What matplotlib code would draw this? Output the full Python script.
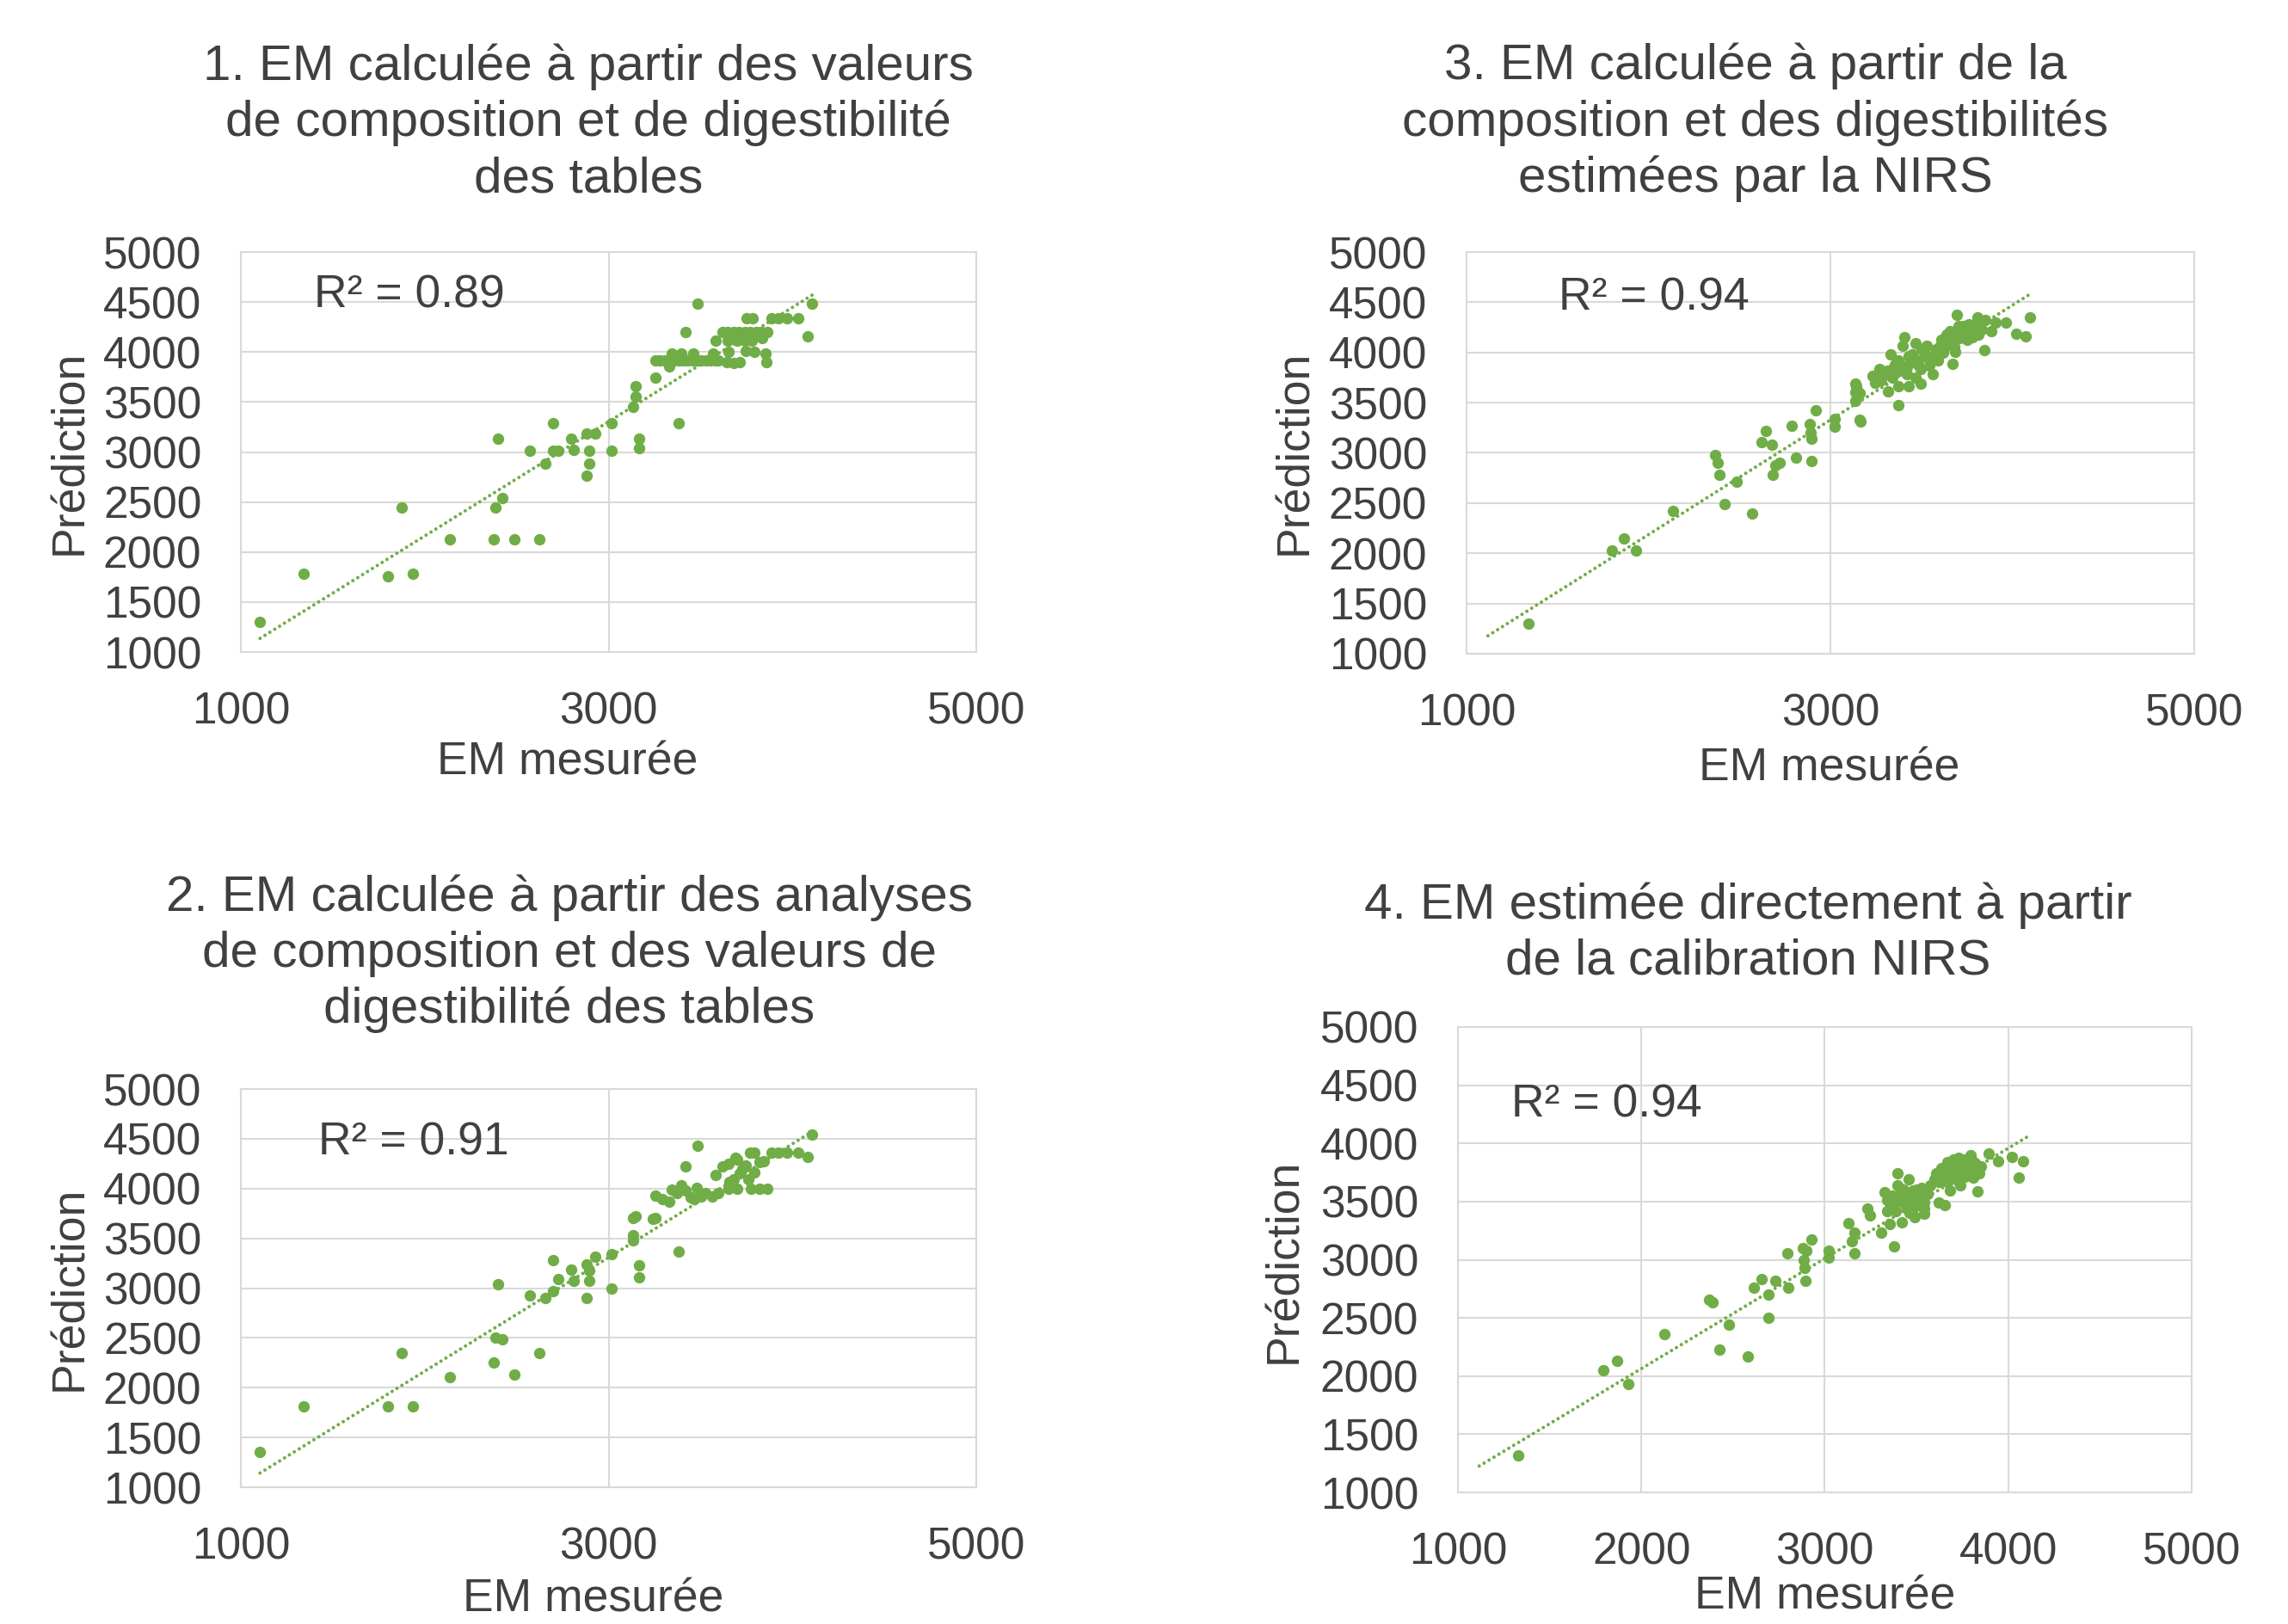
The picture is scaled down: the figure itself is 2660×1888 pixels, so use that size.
import matplotlib
matplotlib.use("Agg")
import matplotlib.pyplot as plt
import numpy as np

plt.rcParams['font.family'] = ['Liberation Sans', 'DejaVu Sans']

# ---------------- data ----------------
x1 = [1104, 1339, 1800, 1936, 1875, 2136, 2375, 2486, 2621, 2386, 2421, 2400, 2571, 2657, 2696, 2696, 2725,
      2796, 2811, 2882, 2929, 2896, 2896, 2882, 3018, 3018, 3132, 3147, 3147, 3168, 3168, 3257, 3382,
      3483, 3420,
      3257, 3280, 3305, 3330, 3355, 3380, 3405, 3430, 3455, 3480, 3505, 3530, 3555, 3580, 3597,
      3331, 3344, 3394, 3461, 3567, 3643, 3682, 3713, 3651, 3745, 3791, 3854, 3857, 3581,
      3620, 3650, 3680, 3710, 3740, 3770, 3800, 3830, 3862, 3650, 3700, 3740, 3780, 3834,
      3752, 3784, 3885, 3924, 3971, 4033, 4083, 4108]
y1 = [1300, 1781, 1759, 1781, 2444, 2123, 2123, 2123, 2123, 2444, 2540, 3132, 3014, 2882, 3292, 3014, 3014,
      3135, 3021, 3182, 3182, 3014, 2882, 2765, 3292, 3014, 3453, 3555, 3655, 3132, 3039, 3747, 3292,
      4480, 4201,
      3914, 3914, 3914, 3914, 3914, 3914, 3914, 3914, 3914, 3914, 3914, 3914, 3914, 3914, 3914,
      3856, 3986, 3986, 3986, 3986, 3900, 3890, 3900, 4000, 4014, 4000, 3986, 3900, 4115,
      4201, 4201, 4201, 4201, 4201, 4201, 4201, 4201, 4201, 4115, 4115, 4115, 4115, 4144,
      4339, 4339, 4339, 4339, 4339, 4339, 4158, 4480]

x2 = [1104, 1339, 1800, 1936, 1875, 2136, 2375, 2486, 2621, 2386, 2421, 2400, 2571, 2657, 2696, 2696, 2725,
      2796, 2811, 2882, 2896, 2896, 2929, 2882, 3018, 3018, 3132, 3132, 3132, 3168, 3168, 3243, 3382,
      3483, 3420, 3147, 3257, 4108, 4083, 4033, 3971, 3924, 3885, 3768, 3791, 3690,
      3257, 3292, 3331, 3344, 3394, 3448, 3480, 3526, 3565, 3597, 3370, 3417, 3503, 3464,
      3651, 3698, 3776, 3823, 3862,
      3581, 3620, 3659, 3682, 3713, 3745, 3791, 3823, 3846, 3651, 3698, 3760, 3729]
y2 = [1352, 1812, 1812, 1812, 2348, 2110, 2254, 2136, 2348, 2502, 2484, 3041, 2923, 2901, 3278, 2970, 3095,
      3185, 3070, 3239, 3174, 3070, 3318, 2901, 3340, 2995, 3706, 3534, 3484, 3232, 3110, 3699, 3365,
      4429, 4222, 3724, 3705, 4543, 4315, 4358, 4358, 4358, 4358, 4358, 4358, 4307,
      3929, 3895, 3866, 3994, 4037, 3909, 4009, 3952, 3923, 3952, 3952, 3980, 3923, 3895,
      4000, 4000, 4000, 4000, 4000,
      4136, 4222, 4065, 4094, 4151, 4236, 4165, 4264, 4278, 4250, 4293, 4094, 4193]

x3 = [1339, 1801, 1863, 1929, 2133, 2366, 2381, 2392, 2417, 2483, 2570, 2621, 2647, 2679, 2683, 2698, 2720,
      2785, 2811, 2887, 2891, 2894, 2898, 2920, 3022, 3022, 3135, 3138, 3138, 3160, 3375,
      3697, 3810, 3853, 3908, 3963, 4097, 4021, 4073, 3884, 3848, 3671, 3167, 3143, 3159,
      3317, 3372, 3432, 3495, 3246, 3270, 3333, 3407, 3396, 3467, 3530, 3561,
      3293, 3340, 3388, 3435, 3482, 3530, 3577, 3624, 3671, 3719, 3766, 3797, 3372, 3451, 3498, 3545,
      3608, 3656, 3734, 3750, 3782, 3813, 3687, 3593, 3419, 3466, 3340, 3277, 3230, 3514, 3640, 3703,
      3310, 3355, 3400, 3445, 3480, 3520, 3560, 3600, 3640, 3680, 3710, 3740, 3770, 3800, 3660, 3620,
      3580, 3500, 3430, 3360, 3700, 3760, 3830]
y3 = [1301, 2028, 2145, 2028, 2419, 2975, 2897, 2784, 2489, 2713, 2397, 3103, 3216, 3082, 2784, 2879, 2897,
      3270, 2950, 3287, 3199, 3145, 2922, 3426, 3340, 3259, 3518, 3606, 3688, 3330, 3475,
      4374, 4351, 4323, 4300, 4300, 4346, 4186, 4160, 4209, 4023, 3886, 3314, 3666, 3594,
      3614, 3666, 3666, 3689, 3694, 3837, 3980, 4151, 4066, 4094, 4066, 3780,
      3780, 3837, 3866, 3894, 3923, 3951, 3980, 4037, 4123, 4180, 4237, 4266, 3923, 3980, 3837, 3866,
      4123, 4209, 4266, 4123, 4151, 4180, 4009, 3923, 3780, 3751, 3751, 3723, 3766, 4009, 4180, 4266,
      3820, 3880, 3850, 3920, 3880, 3990, 3940, 4060, 4100, 4060, 4140, 4200, 4180, 4220, 4150, 4000,
      4030, 4030, 3960, 3800, 4210, 4280, 4230]

x4 = [1329, 1791, 1867, 1929, 2127, 2369, 2387, 2427, 2478, 2579, 2615, 2655, 2691, 2691, 2731, 2796, 2803,
      2879, 2886, 2897, 2890, 2893, 2926, 3023, 3023, 3128, 3146, 3164, 3164, 3377,
      3340, 3387, 3434, 3481, 3528, 3559, 3512, 3450, 3387, 3340, 3544, 3575, 3465, 3411,
      3606, 3637, 3669, 3700, 3731, 3762, 3794, 3825, 3841, 3622, 3669, 3716, 3762, 3809,
      3700, 3747, 3653, 3778, 3684, 3739,
      4020, 4083, 4059, 3947, 3895, 3833, 3797, 3653, 3622, 3395, 3458, 3398, 3325, 3356,
      3309, 3231, 3247, 3422, 3489, 3544,
      3360, 3400, 3440, 3480, 3520, 3500, 3430, 3370, 3540, 3460,
      3640, 3680, 3720, 3760, 3800, 3700, 3740, 3780, 3820, 3660, 3600, 3850]
y4 = [1320, 2051, 2134, 1931, 2363, 2659, 2635, 2230, 2442, 2168, 2758, 2837, 2703, 2504, 2817, 3053, 2762,
      3098, 2995, 3081, 2933, 2820, 3177, 3081, 3019, 3318, 3156, 3235, 3053, 3115,
      3517, 3493, 3542, 3592, 3616, 3567, 3468, 3443, 3418, 3418, 3493, 3641, 3517, 3567,
      3740, 3790, 3839, 3864, 3876, 3864, 3839, 3790, 3740, 3666, 3666, 3691, 3715, 3703,
      3765, 3802, 3740, 3777, 3592, 3641,
      3884, 3844, 3703, 3844, 3913, 3587, 3901, 3468, 3493, 3745, 3691, 3641, 3579, 3307,
      3233, 3443, 3381, 3324, 3369, 3394,
      3470, 3520, 3480, 3440, 3540, 3600, 3600, 3550, 3440, 3400,
      3700, 3720, 3760, 3820, 3860, 3800, 3850, 3740, 3830, 3780, 3690, 3800]

# linear trendlines: slope, intercept and x-range
trend_slope = [1.143, 1.142, 1.142, 0.947]
trend_intercept = [-125, -118, -98, 170]
trend_x_start = [1104, 1104, 1117, 1116]
trend_x_end = [4110, 4110, 4100, 4122]

r2_labels = ["R² = 0.89", "R² = 0.91", "R² = 0.94", "R² = 0.94"]
titles = ["1. EM calculée à partir des valeurs\nde composition et de digestibilité\ndes tables",
          "2. EM calculée à partir des analyses\nde composition et des valeurs de\ndigestibilité des tables",
          "3. EM calculée à partir de la\ncomposition et des digestibilités\nestimées par la NIRS",
          "4. EM estimée directement à partir\nde la calibration NIRS"]
xlabel = "EM mesurée"
ylabel = "Prédiction"
yticks = [1000, 1500, 2000, 2500, 3000, 3500, 4000, 4500, 5000]
xticks_a = [1000, 3000, 5000]
xticks_b = [1000, 2000, 3000, 4000, 5000]

# ---------------- style ----------------
GREEN = "#70AD47"
TXT = "#404040"
GRID = "#D9D9D9"
FS_TICK = 37
FS_LAB = 38.5
FS_TITLE = 42

fig = plt.figure(figsize=(26.6, 18.88), dpi=100)

# panel order: 1 (top-left), 2 (bottom-left), 3 (top-right), 4 (bottom-right)
rects = [[0.1053, 0.5985, 0.3214, 0.2463],
         [0.1053, 0.0842, 0.3214, 0.2452],
         [0.6410, 0.5975, 0.3180, 0.2473],
         [0.6372, 0.0810, 0.3207, 0.2866]]
title_pos = [(0.2571, 0.9245), (0.2489, 0.4126), (0.7673, 0.9245), (0.7639, 0.4253)]
xlab_pos = [(0.2481, 0.5307), (0.2594, 0.0150), (0.7996, 0.5265), (0.7977, 0.0165)]
ylab_pos = [(0.0305, 0.7214), (0.0305, 0.2066), (0.5658, 0.7214), (0.5613, 0.2235)]
r2_pos = [(0.1372, 0.8183), (0.1391, 0.2966), (0.6812, 0.8167), (0.6605, 0.3199)]

xs = [x1, x2, x3, x4]
ys = [y1, y2, y3, y4]
xt = [xticks_a, xticks_a, xticks_a, xticks_b]

for i in range(4):
    ax = fig.add_axes(rects[i])
    x = np.array(xs[i], dtype=float)
    y = np.array(ys[i], dtype=float)
    ax.plot(x, y, 'o', color=GREEN, markersize=9.6, markeredgewidth=0, zorder=3)
    xx = np.array([trend_x_start[i], trend_x_end[i]], dtype=float)
    ax.plot(xx, trend_slope[i] * xx + trend_intercept[i], color=GREEN,
            linewidth=2.9, linestyle=(0, (0.01, 1.65)), dash_capstyle='round', zorder=4)
    ax.set_xlim(1000, 5000)
    ax.set_ylim(1000, 5000)
    ax.set_xticks(xt[i])
    ax.set_yticks(yticks)
    ax.grid(True, color=GRID, linewidth=1.5, zorder=0)
    ax.set_axisbelow(True)
    for s in ax.spines.values():
        s.set_color(GRID)
        s.set_linewidth(1.5)
    ax.tick_params(length=0, labelsize=FS_TICK, labelcolor=TXT, pad=33)
    fig.text(*title_pos[i], titles[i], ha='center', va='center', fontsize=FS_TITLE,
             color=TXT, linespacing=1.26)
    fig.text(*xlab_pos[i], xlabel, ha='center', va='center', fontsize=FS_LAB, color=TXT)
    fig.text(*ylab_pos[i], ylabel, ha='center', va='center', fontsize=FS_LAB, color=TXT,
             rotation=90)
    fig.text(*r2_pos[i], r2_labels[i], ha='left', va='center', fontsize=FS_LAB, color=TXT)

fig.savefig("out.png", dpi=100, facecolor="white")
